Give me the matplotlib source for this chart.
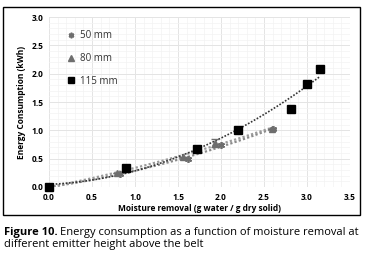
import numpy as np
import matplotlib
matplotlib.use("Agg")
import matplotlib.pyplot as plt
from matplotlib.patches import Rectangle
from matplotlib.ticker import MultipleLocator

plt.rcParams['font.family'] = ['Open Sans', 'DejaVu Sans']

series_names = ["50 mm", "80 mm", "115 mm"]
x50 = [0.0, 0.82, 1.62, 2.0, 2.6]
y50 = [0.0, 0.23, 0.50, 0.75, 1.02]
x80 = [0.0, 0.79, 1.56, 1.93, 2.59]
y80 = [0.0, 0.25, 0.53, 0.78, 1.03]
e80 = [0.0, 0.0, 0.0, 0.07, 0.0]
x115 = [0.0, 0.90, 1.72, 2.20, 2.81, 3.00, 3.15]
y115 = [0.0, 0.34, 0.67, 1.01, 1.38, 1.81, 2.08]
xticks = [0.0, 0.5, 1.0, 1.5, 2.0, 2.5, 3.0, 3.5]
yticks = [0.0, 0.5, 1.0, 1.5, 2.0, 2.5, 3.0]

fig = plt.figure(figsize=(3.72, 2.61), dpi=100)
ax = fig.add_axes([49/372, 74/261, 301/372, 170/261])

gray = "#6e6e6e"
star = (6, 2, 0)

def trend(xs, ys, color, lw):
    c = np.polyfit(xs, ys, 2)
    xx = np.linspace(min(xs), max(xs), 200)
    ax.plot(xx, np.polyval(c, xx), linestyle=(0, (1, 1)), color=color, lw=lw, zorder=2)

trend(x50, y50, "#8a8a8a", 1.6)
trend(x80, y80, "#9a9a9a", 1.6)
trend(x115, y115, "#333333", 1.2)

h50, = ax.plot(x50, y50, linestyle="none", marker=star, ms=5, mew=1.2, color=gray, zorder=3, clip_on=False)
ax.errorbar(x80, y80, yerr=e80, linestyle="none", marker="^", ms=5, color=gray, ecolor=gray,
            elinewidth=0.8, capsize=3, zorder=3, clip_on=False)
h80, = ax.plot([], [], linestyle="none", marker="^", ms=5, color=gray)
h115, = ax.plot(x115, y115, linestyle="none", marker="s", ms=5.5, color="black", zorder=4, clip_on=False)

ax.set_xlim(0, 3.5)
ax.set_ylim(0, 3.0)
ax.set_xticks(xticks)
ax.set_yticks(yticks)
ax.set_xticklabels([f"{v:.1f}" for v in xticks], fontsize=6, fontweight="bold")
ax.set_yticklabels([f"{v:.1f}" for v in yticks], fontsize=6, fontweight="bold")
ax.xaxis.set_minor_locator(MultipleLocator(0.1))
ax.yaxis.set_minor_locator(MultipleLocator(0.1))
ax.grid(which="major", color="#e4e4e4", lw=0.7)
ax.grid(which="minor", color="#f3f3f3", lw=0.5)
ax.set_axisbelow(True)
for s in ax.spines.values():
    s.set_visible(False)
ax.tick_params(which="both", length=0, pad=4)

ax.set_xlabel("Moisture removal (g water / g dry solid)", fontsize=6, fontweight="bold", labelpad=2)
ax.set_ylabel("Energy Consumption (kWh)", fontsize=6, fontweight="bold", labelpad=4)

leg = ax.legend([h50, h80, h115], series_names, loc="upper left", bbox_to_anchor=(0.045, 0.945),
                frameon=False, fontsize=7, handlelength=1.0, handletextpad=0.4,
                labelspacing=1.2, borderaxespad=0, markerscale=0.8)
for t in leg.get_texts():
    t.set_color("#333333")

fig.add_artist(Rectangle((3/372, (261-215)/261), 357/372, 208/261, transform=fig.transFigure,
                         fill=False, edgecolor="black", lw=1.0))

cap_fs = 8.0
t1 = fig.text(4/372, (261-232)/261, "Figure 10.", fontsize=cap_fs, fontweight="bold",
              va="center", ha="left")
fig.canvas.draw()
bb = t1.get_window_extent()
fig.text((bb.x1 + 2)/372, (261-232)/261, "Energy consumption as a function of moisture removal at",
         fontsize=cap_fs, va="center", ha="left")
fig.text(4/372, (261-245)/261, "different emitter height above the belt", fontsize=cap_fs,
         va="center", ha="left")

fig.savefig("out.png", dpi=100)
